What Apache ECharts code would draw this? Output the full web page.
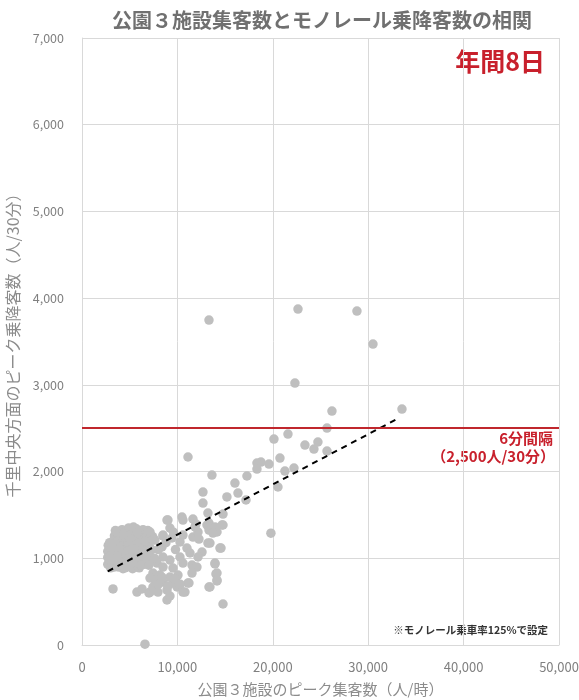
<!DOCTYPE html>
<html>
<head>
<meta charset="utf-8">
<script src="https://cdn.jsdelivr.net/npm/echarts@6/dist/echarts.min.js"></script>
<style>
html,body{margin:0;padding:0;background:#fff;}
#c{width:579px;height:700px;}
</style>
</head>
<body>
<div id="c"></div>
<script>
const titleText = '公園３施設集客数とモノレール乗降客数の相関';
const xAxisName = '公園３施設のピーク集客数（人/時）';
const yAxisName = '千里中央方面のピーク乗降客数（人/30分）';
const badgeText = '年間8日';
const noteText = '※モノレール乗車率125%で設定';
const thresholdLabel = ['6分間隔', '（2,500人/30分）'];
const thresholdValue = 2500;

// main cluster (x: 人/時, y: 人/30分)
const clusterPoints = [
[2700,930],[2700,1010],[2700,1080],[2750,1150],[2900,1180],[3000,890],[3100,960],[3100,1040],[3200,1110],[3300,1200],
[3400,1260],[3400,900],[3500,980],[3600,1050],[3600,1130],[3700,1290],[3800,1200],[3800,900],[3900,960],[4000,1020],
[4000,1100],[4100,1170],[4200,1240],[4200,1330],[4300,880],[4400,950],[4400,1060],[4500,1140],[4500,1300],[4600,1220],
[4700,900],[4700,1000],[4800,1080],[4800,1180],[4900,1260],[4900,1350],[5000,940],[5100,1030],[5100,1120],[5200,1200],
[5300,1300],[5300,880],[5400,980],[5500,1060],[5500,1160],[5600,1250],[5700,1340],[5700,920],[5800,1010],[5900,1100],
[5900,1200],[6000,1290],[6000,890],[6100,970],[6200,1050],[6300,1150],[6300,1250],[6400,1330],[6500,930],[6500,1020],
[6600,1100],[6700,1200],[6800,1280],[6900,960],[6900,1060],[7000,1150],[7100,1230],[7200,1000],[7300,1100],[3300,1060],
[3500,1170],[3900,1110],[4100,920],[4600,1050],[5000,1230],[5200,950],[5600,1000],[6100,1180],[6600,1200],[3100,1120],
[4300,1280],[5400,1360],[5800,1300],[2900,1020],[3700,1020],[4900,1000],[6200,920],[6800,1000],[7000,920],[5200,1100],
[4500,890],[6400,1080],[3500,1320],[6900,1320],[7400,1250]
];
// middle band
const middlePoints = [
[7130,1303],[7650,1211],[8490,1257],[9010,1441],[9220,1349],[10480,1476],[10580,1268],[11630,1245],[12260,1222],[13200,1176],
[14460,1118],[10270,1188],[11000,1118],[11630,1453],[11950,1395],[12160,1303],[13310,1407],[13310,1326],[14150,1303],[14780,1384],
[14780,1510],[13200,1522],[12680,1637],[12680,1764],[15190,1707],[16350,1752],[16030,1868],[17190,1672],[17290,1949],[13620,1960],
[11110,2168],[8490,1268],[9430,1234],[7440,1211],[7130,1095],[8380,1130],[10580,1441],[11840,1361],[13100,1384],[13940,1361],
[13730,1291],[14670,1384],[8910,1441],[14570,1118],[13410,1176],[12580,1072],[12160,1015],[11320,1061],[10270,1015],[9220,980],
[8490,1015],[7860,945],[8490,899],[9540,888],[10580,945],[11530,922],[12050,899],[13940,945],[8000,1100],[9800,1100],
[7600,1000],[8800,1180],[9600,1300],[19800,1290]
];
// lower cluster
const lowerPoints = [
[3250,646],[5760,611],[6290,646],[7020,600],[7960,611],[8910,519],[9220,565],[9960,669],[10790,611],[11210,715],
[13310,669],[13940,934],[14040,819],[14150,738],[14780,473],[7130,611],[7650,749],[7440,669],[8490,726],[8910,634],
[9540,715],[10060,807],[10580,611],[11110,715],[11530,830],[13410,669],[14150,830],[14150,749],[7440,830],[8170,807],
[9220,784],[7130,772],[8000,700],[9000,680],[9800,760],[10300,700],[8400,780],[6600,10]
];
// upper scattered points
const upperPoints = [
[13310,3747],[22640,3874],[28820,3851],[30500,3470],[22320,3021],[26200,2698],[33540,2721],[25680,2502],[24730,2341],[24310,2260],
[25680,2237],[23370,2306],[21590,2433],[20120,2375],[20750,2156],[19600,2087],[18760,2110],[18340,2098],[18340,2029],[21270,2006],
[22220,2041],[20540,1822]
];
// trend line ends
const trendLine = [[2700,850],[33100,2610]];

const allPoints = clusterPoints.concat(middlePoints, lowerPoints, upperPoints);

const chart = echarts.init(document.getElementById('c'));
const font = '"Noto Sans CJK JP","Noto Sans",sans-serif';
chart.setOption({
  animation: false,
  textStyle: {fontFamily: font},
  title: {
    text: titleText, left: 317, top: 5, textAlign: 'center',
    textStyle: {fontSize: 20, fontWeight: 'bold', color: '#707070', fontFamily: font}
  },
  grid: {left: 82, right: 20, top: 38, bottom: 55, containLabel: false, outerBoundsMode: 'none'},
  xAxis: {
    type: 'value', min: 0, max: 50000, interval: 10000,
    name: xAxisName, nameLocation: 'middle', nameGap: 37,
    nameTextStyle: {fontSize: 15, color: '#8c8c8c'},
    axisLine: {show: true, lineStyle: {color: '#d9d9d9'}},
    axisTick: {show: false},
    axisLabel: {fontSize: 13, color: '#808080', margin: 16,
      formatter: v => v.toLocaleString('en-US')},
    splitLine: {show: true, lineStyle: {color: '#d9d9d9', width: 1}}
  },
  yAxis: {
    type: 'value', min: 0, max: 7000, interval: 1000,
    name: yAxisName, nameLocation: 'middle', nameGap: 61, nameRotate: 90,
    nameTextStyle: {fontSize: 16, color: '#8c8c8c'},
    axisLine: {show: true, lineStyle: {color: '#d9d9d9'}},
    axisTick: {show: false},
    axisLabel: {fontSize: 12.5, color: '#808080', margin: 18,
      formatter: v => v.toLocaleString('en-US')},
    splitLine: {show: true, lineStyle: {color: '#d9d9d9', width: 1}}
  },
  series: [
    {
      type: 'scatter', data: allPoints, symbolSize: 9.5,
      itemStyle: {color: '#bfbfbf', opacity: 1},
      markLine: {
        silent: true, symbol: ['none','none'],
        lineStyle: {color: '#c0272d', width: 2, type: 'solid'},
        label: {show: false},
        data: [{yAxis: thresholdValue}]
      },
      z: 2
    },
    {
      type: 'line', data: trendLine, symbol: 'none',
      lineStyle: {color: '#000', width: 2, type: [6, 5]}, z: 3
    }
  ],
  graphic: [
    {type: 'text', right: 34, top: 49,
     style: {text: badgeText, fill: '#c8202c', font: 'bold 25px ' + font}},
    {type: 'text', right: 26, top: 431,
     style: {text: thresholdLabel[0], textAlign: 'right', font: 'bold 15px ' + font, fill: '#c8202c'}},
    {type: 'text', right: 24, top: 449,
     style: {text: thresholdLabel[1], textAlign: 'right', font: 'bold 15px ' + font, fill: '#c8202c'}},
    {type: 'text', right: 31, top: 625,
     style: {text: noteText, font: 'bold 10.5px ' + font, fill: '#333'}}
  ]
});
</script>
</body>
</html>
